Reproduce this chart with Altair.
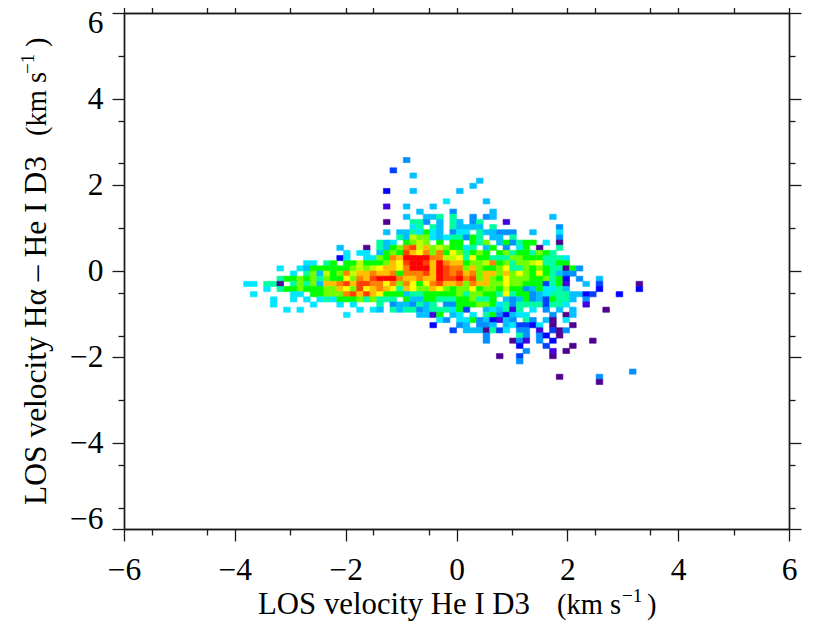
import altair as alt
import pandas as pd

BIN = 0.12
LEVELS = "pibBacdtglvyAOrR"
COLORS = ["#4f0090", "#4000e0", "#0000ff", "#0040ff", "#0090ff", "#00c0ff", "#00e8ff", "#00ffa0",
          "#00ff00", "#70ff00", "#c0ff00", "#ffff00", "#ffc000", "#ff8000", "#ff4000", "#ff0000"]

# row index from the top -> (first column, colour levels)
ROWS = {
    28: [(42, "a")],
    30: [(40, "B")],
    31: [(43, "c")],
    32: [(53, "c")],
    33: [(52, "c")],
    34: [(39, "b"), (43, "c"), (50, "c")],
    36: [(48, "d"), (54, "c")],
    37: [(39, "i"), (42, "c"), (46, "c")],
    38: [(44, "c"), (49, "a"), (55, "c")],
    39: [(42, "c"), (45, "cct"), (49, "t"), (52, "a"), (54, "ac"), (64, "c")],
    40: [(39, "p"), (43, "tt"), (45, "a"), (47, "c"), (49, "tc"), (52, "at"), (57, "i")],
    41: [(43, "dt"), (46, "tc"), (49, "tcccc"), (55, "t"), (65, "a")],
    42: [(39, "c"), (41, "cctdgdc"), (49, "add"), (53, "tccaaa"), (61, "c"), (65, "d")],
    43: [(41, "tcvlldcdttagt"), (55, "cc"), (58, "t"), (65, "a")],
    44: [(38, "tcd"), (42, "glvl"), (47, "g"), (49, "gg"), (52, "gtl"), (56, "cgatgg"), (63, "d"), (65, "p")],
    45: [(32, "c"), (36, "p"), (38, "tcglOrvAlvlggdt"), (54, "cg"), (57, "a"), (59, "dg"), (62, "p"), (65, "t")],
    46: [(33, "d"), (35, "dd"), (38, "cglgrAyOlOgyltglg"), (56, "gltggtlgt")],
    47: [(32, "bd"), (36, "ddlgOARRRROOvvytyggtttllgggtttd")],
    48: [(27, "dd"), (30, "tg"), (33, "ggvggglAyrRRrAROAAgllvOgltllvyttgg")],
    49: [(23, "d"), (26, "dcgggggglvlvyAAyORRRARrOOlAlgglyttlglgttpga")],
    50: [(25, "d"), (27, "tlcvglOvAAOAAOgOOOrARrOrAOlAAlAlylgygtcaa")],
    51: [(23, "tgglgltlggylOArRRROAAOAARrrROrlAlgylllggltgb"), (68, "a"), (71, "c")],
    52: [(18, "dd"), (21, "ttp"), (25, "tltlcAAOrArrOOyOlOygyOrAAOlOAAllyllgggBtgi"), (69, "c"), (71, "B"), (77, "p")],
    53: [(21, "d"), (23, "tgglgggllAylryAOAytAyllAylgllygllgvggacgddtc"), (71, "b"), (77, "b")],
    54: [(19, "d"), (25, "dd"), (28, "gglllOrArAygggctt"), (45, "gggggltllggtytggacdtttccbB"), (74, "b")],
    55: [(22, "d"), (25, "d"), (27, "d"), (29, "dtdgggltlttt"), (42, "gccggtttgglttg"), (57, "cacgacBgttc"), (69, "a")],
    56: [(22, "d"), (28, "d"), (32, "d"), (34, "d"), (38, "t"), (40, "accatct"), (48, "aagggllgdtattttBttd"), (69, "i")],
    57: [(24, "d"), (26, "d"), (35, "d"), (37, "dc"), (40, "tcttactttdg"), (51, "B"), (54, "cdctit"), (61, "d"), (63, "a"), (65, "c"), (67, "c"), (72, "p")],
    58: [(33, "d"), (44, "ccig"), (49, "cd"), (52, "d"), (54, "tgabcdd"), (64, "a"), (66, "pc")],
    59: [(47, "da"), (50, "ddgacbica"), (60, "ta"), (63, "cp"), (66, "d")],
    60: [(46, "b"), (50, "ac"), (53, "aac"), (57, "cdBBbd"), (64, "p"), (67, "p")],
    61: [(49, "B"), (51, "cccptBd"), (59, "aa"), (62, "i"), (64, "Bpa")],
    62: [(54, "a"), (59, "ta"), (62, "ab"), (65, "p")],
    63: [(54, "a"), (58, "pai"), (62, "a"), (64, "b"), (70, "p")],
    64: [(59, "b"), (63, "B"), (67, "p")],
    65: [(60, "a"), (64, "i"), (66, "p")],
    66: [(56, "p"), (59, "B"), (64, "p")],
    67: [(59, "a")],
    69: [(76, "a")],
    70: [(65, "p"), (71, "a")],
    71: [(71, "p")],
}

MAJOR = [-6, -4, -2, 0, 2, 4, 6]
MINOR = [-5.5, -5, -4.5, -3.5, -3, -2.5, -1.5, -1, -0.5, 0.5, 1, 1.5, 2.5, 3, 3.5, 4.5, 5, 5.5]

cells = []
for row, segments in ROWS.items():
    for start, levels in segments:
        for i, level in enumerate(levels):
            col = start + i
            cells.append({
                "x0": -6 + BIN * col, "x1": -6 + BIN * (col + 1),
                "y0": 6 - BIN * row, "y1": 6 - BIN * (row + 1),
                "level": level,
            })
df = pd.DataFrame(cells)

DOMAIN = alt.Scale(domain=[-6, 6], nice=False, zero=False)
INK = "#1a1a1a"
FONT = "Liberation Serif"
WIDTH, HEIGHT = 665, 516


def axis(orient, values, size, labels, padding=0, flush=False):
    return alt.Axis(
        orient=orient, values=values, tickSize=size, labels=labels, title=None, grid=False,
        domain=True, domainColor=INK, domainWidth=1.4, tickColor=INK, tickWidth=1.3,
        labelFont=FONT, labelFontSize=31.5, labelColor="#000000", labelPadding=padding,
        labelFlush=flush, labelFlushOffset=6 if flush else 0, labelOverlap=False, format="d",
    )


def axes_layer(x_orient, y_orient, values, size, labels):
    return alt.Chart(df).mark_point(opacity=0).encode(
        x=alt.X("x0:Q", scale=DOMAIN, axis=axis(x_orient, values, size, labels, padding=13)),
        y=alt.Y("y0:Q", scale=DOMAIN, axis=axis(y_orient, values, size, labels, padding=9, flush=True)),
    )


cell_colors = alt.Scale(domain=list(LEVELS), range=COLORS)
cells_layer = alt.Chart(df).mark_rect(strokeWidth=0.6).encode(
    x=alt.X("x0:Q", scale=DOMAIN, axis=None),
    x2="x1:Q",
    y=alt.Y("y0:Q", scale=DOMAIN, axis=None),
    y2="y1:Q",
    color=alt.Color("level:N", scale=cell_colors, legend=None),
    stroke=alt.Color("level:N", scale=cell_colors, legend=None),
)


def label(text, x, y, size=30.8, angle=0, align="left"):
    return alt.Chart(df.head(1)).mark_text(
        text=text, font=FONT, fontSize=size, angle=angle, align=align, baseline="alphabetic", color="#000000",
    ).encode(x=alt.value(x), y=alt.value(y))


texts = [
    label("LOS velocity He I D3", 134, 601),
    label("(km s", 433, 601, size=28.5),
    label("\u22121", 498, 589, size=19),
    label(")", 523, 601, size=28.5),
    label("LOS velocity H\u03b1 \u2013 He I D3", -78, 492, size=31.5, angle=270),
    label("(km s", -78, 123, size=28.5, angle=270),
    label("\u22121", -90, 61, size=19, angle=270),
    label(")", -78, 34, size=28.5, angle=270),
]

chart = alt.layer(
    cells_layer,
    axes_layer("bottom", "left", MAJOR, 12, True),
    axes_layer("bottom", "left", MINOR, 6, False),
    axes_layer("top", "right", MAJOR, 12, False),
    axes_layer("top", "right", MINOR, 6, False),
    *texts,
).resolve_axis(x="independent", y="independent").properties(
    width=WIDTH, height=HEIGHT,
    autosize=alt.AutoSizeParams(type="none"),
    padding={"left": 116, "top": 5, "right": 33, "bottom": 100},
).configure_view(stroke=None).configure(background="#ffffff")

chart.save("out.html", embed_options={"renderer": "svg", "actions": False})
